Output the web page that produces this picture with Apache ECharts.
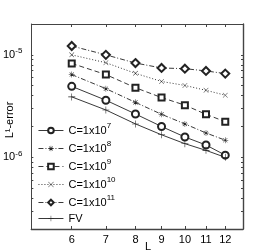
<!DOCTYPE html>
<html><head><meta charset="utf-8">
<script src="https://cdn.jsdelivr.net/npm/echarts@6/dist/echarts.min.js"></script>
<style>html,body{margin:0;padding:0;background:#fff}#c{width:275px;height:252px}</style>
</head><body><div id="c"></div>
<script>
var L = [6, 7, 8, 9, 10, 11, 12];
var c7  = [4.93e-6, 3.61e-6, 2.65e-6, 2.00e-6, 1.58e-6, 1.32e-6, 1.05e-6];
var c8  = [6.42e-6, 4.68e-6, 3.44e-6, 2.63e-6, 2.12e-6, 1.73e-6, 1.47e-6];
var c9  = [8.25e-6, 6.42e-6, 4.78e-6, 3.83e-6, 3.23e-6, 2.63e-6, 2.23e-6];
var c10 = [1.00e-5, 8.38e-6, 6.60e-6, 5.50e-6, 5.03e-6, 4.51e-6, 4.04e-6];
var c11 = [1.22e-5, 1.00e-5, 8.32e-6, 7.45e-6, 7.33e-6, 6.97e-6, 6.56e-6];
var fv  = [3.89e-6, 2.90e-6, 2.12e-6, 1.66e-6, 1.36e-6, 1.17e-6, 1.00e-6];
var names = ['C=1x10{sup|7}', 'C=1x10{sup|8}', 'C=1x10{sup|9}', 'C=1x10{sup|10}', 'C=1x10{sup|11}', 'FV'];
var xTicks = [6, 7, 8, 9, 10, 11, 12];
var yMajor = [1e-6, 1e-5];
var yTicks = [2e-7,3e-7,4e-7,5e-7,6e-7,7e-7,8e-7,9e-7,1e-6,2e-6,3e-6,4e-6,5e-6,6e-6,7e-6,8e-6,9e-6,1e-5,2e-5];
var xName = 'L';
var yName = 'L¹-error';

var FONT = 'Liberation Sans';
var INK = '#222';
var starPath = 'path://M4.6,0h0.8v10h-0.8z M0,4.6h10v0.8h-10z M1.2,1.8l0.6,-0.6l7,7l-0.6,0.6z M8.2,1.2l0.6,0.6l-7,7l-0.6,-0.6z';
var xPath = 'path://M0.6,0l4.4,4.4l4.4,-4.4l0.6,0.6l-4.4,4.4l4.4,4.4l-0.6,0.6l-4.4,-4.4l-4.4,4.4l-0.6,-0.6l4.4,-4.4l-4.4,-4.4z';
var plusPath = 'path://M4.6,0h0.8v10h-0.8z M0,4.6h10v0.8h-10z';

function pairs(v){ return L.map(function(x,i){ return [x, v[i]]; }); }

var styles = [
  {data:c7,  symbol:'emptyCircle',  size:7, type:'solid'},
  {data:c8,  symbol:starPath,       size:6, type:[5,2,1,2]},
  {data:c9,  symbol:'emptyRect',    size:6, type:[5,3]},
  {data:c10, symbol:xPath,          size:5, type:[1,2]},
  {data:c11, symbol:'emptyDiamond', size:8, type:[5,2,1,2]},
  {data:fv,  symbol:plusPath,       size:7, type:'solid'}
];

var series = styles.map(function(s, i){
  var filledPath = s.symbol.indexOf('path://') === 0;
  return {
    name: names[i], type: 'line', data: pairs(s.data),
    xAxisIndex: 0, yAxisIndex: 0,
    symbol: s.symbol, symbolSize: s.size, showSymbol: true,
    lineStyle: {color: INK, width: 0.9, type: s.type},
    itemStyle: filledPath ? {color: INK, borderWidth: 0} : {color: INK, borderColor: INK, borderWidth: 0.7},
    emphasis: {disabled: true}, animation: false
  };
});

var sup = {fontSize: 8, verticalAlign: 'bottom', padding: [0,0,7,0], fontFamily: FONT, color: '#000'};

function yAxisCfg(pos, labels, w){
  return {
    type: 'log', logBase: 10, min: 2e-7, max: 2e-5, position: pos,
    axisLine: {show: true, onZero: false, lineStyle: {color: '#444', width: w}},
    axisTick: {show: true, inside: true, length: 2, customValues: yTicks, lineStyle: {color: '#444'}},
    axisLabel: labels ? {
      show: true, customValues: yMajor, margin: 9, fontFamily: FONT, fontSize: 11, color: '#000',
      formatter: function(v){ return '10{sup|' + Math.round(Math.log10(v)) + '}'; },
      rich: {sup: {fontSize: 8, verticalAlign: 'bottom', padding: [0,0,8,0], fontFamily: FONT, color: '#000'}}
    } : {show: false},
    splitLine: {show: false}, minorTick: {show: false}
  };
}
function xAxisCfg(pos, labels, w){
  return {
    type: 'log', logBase: 10, min: 5, max: 13, position: pos,
    axisLine: {show: true, onZero: false, lineStyle: {color: '#444', width: w}},
    axisTick: {show: true, inside: true, length: 3, customValues: xTicks, lineStyle: {color: '#444'}},
    axisLabel: labels ? {show: true, customValues: xTicks, margin: 5, fontFamily: FONT, fontSize: 11, color: '#000'} : {show: false},
    splitLine: {show: false}, minorTick: {show: false}
  };
}

var chart = echarts.init(document.getElementById('c'), null, {renderer: 'canvas'});
chart.setOption({
  backgroundColor: '#fff',
  animation: false,
  grid: {left: 27, top: 24, right: 32, bottom: 23, containLabel: false},
  xAxis: [xAxisCfg('bottom', true, 1.4), xAxisCfg('top', false, 1)],
  yAxis: [yAxisCfg('left', true, 1), yAxisCfg('right', false, 1.4)],
  legend: {
    orient: 'vertical', left: 38, top: 122, itemWidth: 25, itemHeight: 7, itemGap: 3,
    data: names, backgroundColor: 'transparent', padding: 0,
    itemStyle: {borderWidth: 0.7},
    lineStyle: {width: 0.9},
    textStyle: {fontFamily: FONT, fontSize: 11, color: '#000', lineHeight: 13, rich: {sup: sup}}
  },
  graphic: [
    {type: 'text', x: 148, y: 247, silent: true,
     style: {text: xName, fontFamily: FONT, fontSize: 11, fill: '#000', align: 'center', verticalAlign: 'middle'}},
    {type: 'text', x: 10, y: 120, rotation: Math.PI / 2, silent: true,
     style: {text: yName, fontFamily: FONT, fontSize: 11, fill: '#000', align: 'center', verticalAlign: 'middle'}}
  ],
  series: series
});
</script></body></html>
